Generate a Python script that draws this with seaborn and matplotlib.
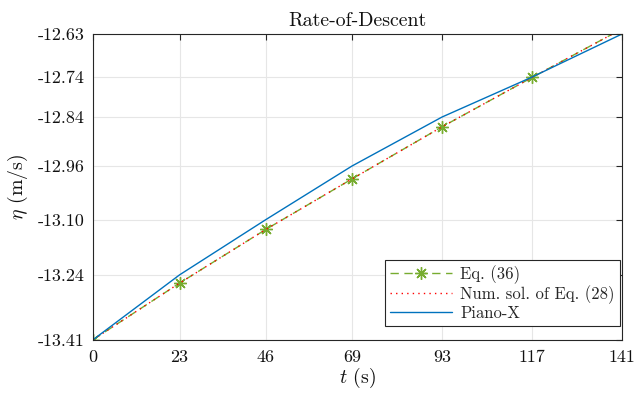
import matplotlib
matplotlib.use("Agg")
import matplotlib.pyplot as plt
import seaborn as sns
import pandas as pd

# ---- data ----
t_values = [0, 23, 46, 69, 93, 117, 141]
eq36 = [-13.41, -13.266, -13.129, -13.000, -12.867, -12.741, -12.617]
num_sol28 = [-13.41, -13.266, -13.129, -13.000, -12.867, -12.741, -12.617]
piano_x = [-13.41, -13.245, -13.104, -12.967, -12.842, -12.740, -12.63]
x_tick_labels = ["0", "23", "46", "69", "93", "117", "141"]
y_tick_labels = ["-13.41", "-13.24", "-13.10", "-12.96", "-12.84", "-12.74", "-12.63"]

sns.set_style("white")
plt.rcParams["font.family"] = ["cmr10", "DejaVu Serif"]
plt.rcParams["mathtext.fontset"] = "cm"
plt.rcParams["axes.unicode_minus"] = False
plt.rcParams["axes.formatter.use_mathtext"] = True

df = pd.DataFrame({"t": t_values, "eq36": eq36, "num": num_sol28, "piano": piano_x})

fig = plt.figure(figsize=(6.36, 3.93), dpi=100)
ax = fig.add_axes([0.1467, 0.1361, 0.978 - 0.1467, 0.9135 - 0.1361])

green = "#77AC30"
sns.lineplot(data=df, x="t", y="eq36", ax=ax, color=green, linestyle=(0, (6, 4)),
             linewidth=1.0, marker=(8, 2, 0), markersize=9, markeredgecolor=green,
             markeredgewidth=1.0, label="Eq. (36)", clip_on=True)
sns.lineplot(data=df, x="t", y="num", ax=ax, color="#FF0000", linestyle=(0, (1, 3)),
             linewidth=1.0, label="Num. sol. of Eq. (28)")
sns.lineplot(data=df, x="t", y="piano", ax=ax, color="#0072BD", linewidth=1.0,
             label="Piano-X")

ax.set_xlim(0, 141)
ax.set_ylim(-13.41, -12.63)
ax.set_xticks(t_values)
ax.set_xticklabels(x_tick_labels)
ax.set_yticks(piano_x)
ax.set_yticklabels(y_tick_labels)

ax.grid(True, color="#E6E6E6", linewidth=0.8)
ax.set_axisbelow(True)
for s in ax.spines.values():
    s.set_visible(True)
    s.set_color("#262626")
    s.set_linewidth(0.8)
ax.tick_params(direction="in", length=4, width=0.8, color="#262626",
               top=True, right=True, labelsize=13, labelcolor="#111111")
ax.tick_params(axis="x", pad=7)
ax.tick_params(axis="y", pad=6)

ax.set_title("Rate-of-Descent", fontsize=14.3, pad=6, color="#111111")
ax.set_xlabel(r"$t$ (s)", fontsize=14.3, labelpad=1, color="#111111")
ax.set_ylabel(r"$\eta$ (m/s)", fontsize=14.3, labelpad=6, color="#111111")

leg = ax.legend(loc="lower right", bbox_to_anchor=(0.996, 0.044), fontsize=12,
                frameon=True, fancybox=False, edgecolor="#262626", framealpha=1,
                borderpad=0.3, labelspacing=0.1, handlelength=3.7,
                handletextpad=0.5, borderaxespad=0.0)
leg.get_frame().set_linewidth(0.8)

fig.savefig("out.png", dpi=100)
